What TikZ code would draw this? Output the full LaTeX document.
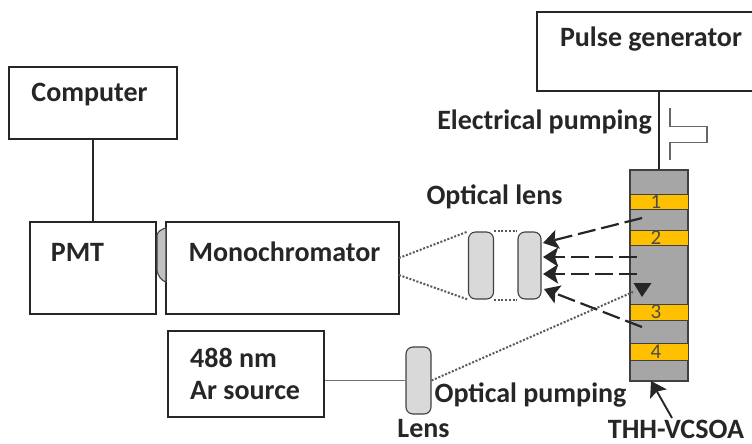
\documentclass[tikz,border=0pt]{standalone}
\usepackage{fontspec}
\setmainfont{Carlito}
\usetikzlibrary{arrows.meta}
\definecolor{bandYellow}{HTML}{FFC000}
\definecolor{chipGray}{HTML}{A6A6A6}
\definecolor{lensGray}{HTML}{D9D9D9}
\definecolor{lineGray}{HTML}{404040}
\tikzset{
    >={Stealth[length=15pt,width=19pt,inset=3pt]}, % makes the arrow heads bold
    styleBox/.style={draw=black!85, line width=2.2pt, inner sep=0pt, fill=white}, % every instrument box
    styleTag/.style={font=\bfseries\fontsize{28}{32}\selectfont, text=black!85, inner sep=0pt},
    styleLens/.style={draw=lineGray, line width=1.1pt, fill=lensGray, rounded corners=7pt, inner sep=0pt},
    styleBand/.style={draw=lineGray, line width=.6pt, fill=bandYellow, minimum width=58pt, inner sep=0pt, font=\fontsize{21}{21}\selectfont, text=black!70},
    styleDash/.style={->, line width=2.2pt, draw=black!85, dash pattern=on 18pt off 6pt},
    styleDot/.style={line width=2pt, draw=black!65, dash pattern=on 2pt off 1.7pt},
}
\begin{document}
\begin{tikzpicture}[x=1pt, y=-1pt]
    \useasboundingbox (0,0) rectangle (752,444);
    % boxes
    \node[styleBox, minimum width=168pt, minimum height=72pt] (computer) at (93,103) {};
    \node[styleBox, minimum width=126pt, minimum height=92pt] (pmt) at (93,268) {};
    \node[styleBox, minimum width=233pt, minimum height=92pt] (mono) at (282.5,268) {};
    \node[styleBox, minimum width=156pt, minimum height=86pt] (source) at (246,374) {};
    \node[styleBox, minimum width=225pt, minimum height=79pt] (pulse) at (649.5,51.5) {};
    % box texts
    \node[styleTag] (computerText) at (89.5,95) {Computer};
    \node[styleTag] (pmtText) at (77.5,252) {PMT};
    \node[styleTag] (monoText) at (284.5,252) {Monochromator};
    \node[styleTag, anchor=west] (sourceTextA) at (190,358) {488 nm};
    \node[styleTag, anchor=west] (sourceTextB) at (190,391) {Ar source};
    \node[styleTag] (pulseText) at (651,39) {Pulse generator};
    % device
    \node[draw=lineGray, line width=1.1pt, fill=chipGray, minimum width=58pt, minimum height=211pt, inner sep=0pt] (vcsoa) at (659,275.5) {};
    \node[styleBand, minimum height=15pt] (bandA) at (659,201.5) {\hspace{-6pt}1};
    \node[styleBand, minimum height=15pt] (bandB) at (659,237.5) {\hspace{-6pt}2};
    \node[styleBand, minimum height=16pt] (bandC) at (659,312) {\hspace{-6pt}3};
    \node[styleBand, minimum height=17pt] (bandD) at (659,351.5) {\hspace{-6pt}4};
    % lenses
    \node[styleLens, minimum width=25pt, minimum height=67pt] (lensA) at (481,265.5) {};
    \node[styleLens, minimum width=23pt, minimum height=67pt] (lensB) at (529.5,265.5) {};
    \node[styleLens, minimum width=25pt, minimum height=67pt] (lensC) at (418.5,380.5) {};
    % free ends
    \coordinate (monoUp) at (399,258);
    \coordinate (monoDown) at (399,275);
    \coordinate (beamIn) at (633,292);
    \coordinate (outA) at (642,218);
    \coordinate (outB) at (637,257);
    \coordinate (outC) at (637,274);
    \coordinate (outD) at (642,327);
    \coordinate (tipA) at (543,243);
    \coordinate (tipB) at (543,257);
    \coordinate (tipC) at (543,274);
    \coordinate (tipD) at (544,289);
    \coordinate (chipEnd) at (651,381);
    \coordinate (chipStart) at (672,418);
    % wires
    \draw[line width=2.2pt, draw=black!85] (computer.south) -- (pmt.north);
    \draw[line width=2.2pt, draw=black!85] (pulse.south -| vcsoa.north) -- (vcsoa.north);
    \draw[line width=1.6pt, draw=black!55] (source.east |- lensC.west) -- (lensC.west);
    % light paths
    \draw[styleDot] (monoUp) -- (lensA.north west);
    \draw[styleDot] (monoDown) -- (lensA.south west);
    \draw[styleDot] (lensA.north east) -- (lensB.north west);
    \draw[styleDot] (lensA.south east) -- (lensB.south west);
    \draw[styleDot] (lensC.east) -- (beamIn);
    \draw[styleDash] (outA) -- (tipA);
    \draw[styleDash] (outB) -- (tipB);
    \draw[styleDash] (outC) -- (tipC);
    \draw[styleDash] (outD) -- (tipD);
    \draw[->, line width=1.9pt, draw=black!85] (chipStart) -- (chipEnd);
    \fill[black!85] (633.5,283) -- (651.5,283) -- (642,297) -- cycle;
    % window between pmt and monochromator
    \draw[draw=lineGray, line width=1.1pt, fill=chipGray!70] (157,235) .. controls (158,231) and (162,229) .. (166,228) -- (166,282) .. controls (162,281) and (158,276) .. (157,271) -- cycle;
    % pulse shape
    \draw[line width=1.4pt, draw=black!60] (670,108) -- (670,126.5) -- (707,126.5) -- (707,142.5) -- (670,142.5) -- (670,160);
    % free labels
    \node[styleTag] (pumpText) at (544.5,122) {Electrical pumping};
    \node[styleTag] (lensText) at (494.5,197) {Optical lens};
    \node[styleTag] (opticalText) at (530.5,395) {Optical pumping};
    \node[styleTag] (smallLensText) at (423.5,429) {Lens};
    \node[styleTag] (chipText) at (676,429) {THH-VCSOA};
\end{tikzpicture}
\end{document}
